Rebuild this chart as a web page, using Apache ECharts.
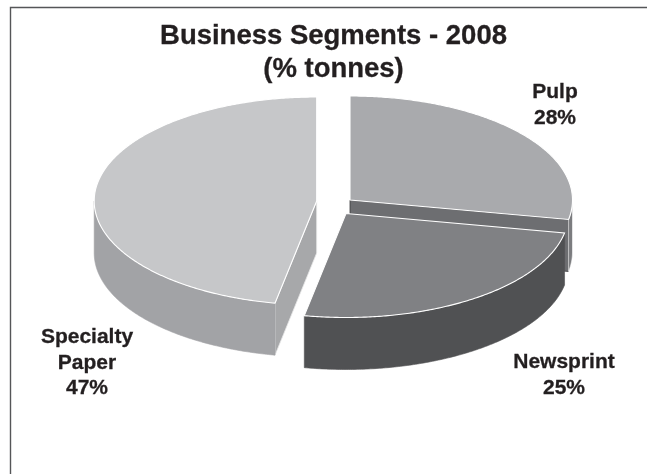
<!DOCTYPE html>
<html>
<head>
<meta charset="utf-8">
<style>html,body{margin:0;padding:0;background:#fff}#chart{width:647px;height:474px}</style>
<script src="https://cdn.jsdelivr.net/npm/echarts@6/dist/echarts.min.js"></script>
</head>
<body>
<div id="chart"></div>
<script>
// Segment shares, clockwise from twelve o'clock
const categories = ['Pulp', 'Newsprint', 'Specialty\nPaper'];
const shares = [28, 25, 47];

// Tilted-disc geometry and per-segment appearance
const RX = 222.5, RY = 104, DEPTH = 52;
const apexes = [[350, 200], [346, 213.5], [316.7, 201]];
const topColors = ['#a9aaad', '#808184', '#c6c7c9'];
const wallColors = ['#7b7c7f', '#505153', '#a2a3a6'];
const wallEdges = ['#ffffff', '#505153', '#a2a3a6'];
const cutColors = ['#6d6e71', null, '#a7a8aa'];
const cutEdges = ['#3a3a3c', null, '#e8e8e9'];
// Which radial edge of each segment faces the viewer: 1 = trailing, 0 = leading
const cutSide = [1, null, 0];
const labelAnchors = [[555, 105], [564, 375], [87, 363]];

const total = shares.reduce((a, b) => a + b, 0);
const toAngle = p => (p / total) * Math.PI * 2;

function rimPoint(c, a, dy) {
  return [c[0] + RX * Math.sin(a), c[1] - RY * Math.cos(a) + (dy || 0)];
}
function arcPoints(c, a0, a1, dy) {
  const n = Math.max(2, Math.ceil(Math.abs(a1 - a0) / 0.01));
  const pts = [];
  for (let i = 0; i <= n; i++) pts.push(rimPoint(c, a0 + (a1 - a0) * i / n, dy));
  return pts;
}
function poly(points, fill, stroke, z2, lw) {
  return {
    type: 'polygon', z2: z2,
    shape: { points: points },
    style: { fill: fill, stroke: stroke, lineWidth: lw }
  };
}

// Series order paints far segments first so nearer ones overlap them
function renderSegment(params, api) {
  const i = params.dataIndex;
  let before = 0;
  for (let k = 0; k < i; k++) before += shares[k];
  const a0 = toAngle(before), a1 = toAngle(before + api.value(0));
  const c = apexes[i];
  const kids = [];

  // Cut face along the radial edge that looks toward the viewer
  if (cutSide[i] !== null) {
    const tip = rimPoint(c, cutSide[i] ? a1 : a0);
    kids.push(poly([c, tip, [tip[0], tip[1] + DEPTH], [c[0], c[1] + DEPTH]],
      cutColors[i], cutEdges[i], 1, 0.8));
  }

  // Outer wall: only the front half of the rim (quarter to three-quarter turn)
  const w0 = Math.max(a0, Math.PI / 2), w1 = Math.min(a1, Math.PI * 1.5);
  if (w1 > w0) {
    const upper = arcPoints(c, w0, w1, 0);
    const lower = arcPoints(c, w1, w0, DEPTH);
    kids.push(poly(upper.concat(lower), wallColors[i], wallEdges[i], 2, 0.6));
  }

  // Top face, outlined in white
  kids.push(poly([c].concat(arcPoints(c, a0, a1, 0)), topColors[i], '#ffffff', 3, 1.1));

  const anchor = labelAnchors[i];
  kids.push({
    type: 'text', z2: 4, x: anchor[0], y: anchor[1],
    style: {
      text: categories[i] + '\n' + api.value(0) + '%',
      fill: '#231f20', stroke: '#231f20', lineWidth: 0.3,
      align: 'center', verticalAlign: 'middle',
      font: 'bold 21px "Liberation Sans", Arial, sans-serif', lineHeight: 25.5
    }
  });
  return { type: 'group', children: kids };
}

const chart = echarts.init(document.getElementById('chart'), null, { renderer: 'canvas' });
chart.setOption({
  animation: false,
  backgroundColor: '#ffffff',
  title: {
    text: 'Business Segments - 2008\n(% tonnes)',
    left: 328.5, top: 15, textAlign: 'center',
    textStyle: {
      color: '#231f20', fontFamily: '"Liberation Sans", Arial, sans-serif',
      fontWeight: 'bold', fontSize: 27.5, lineHeight: 33,
      textBorderColor: '#231f20', textBorderWidth: 0.3
    }
  },
  graphic: [{
    // Frame: top and left rules only
    type: 'polyline', silent: true,
    shape: { points: [[647, 7.5], [10.5, 7.5], [10.5, 474]] },
    style: { fill: 'none', stroke: '#555658', lineWidth: 1.4 }
  }],
  series: [{
    type: 'custom',
    coordinateSystem: 'none',
    silent: true,
    clip: false,
    renderItem: renderSegment,
    data: shares.map((v, i) => ({ value: [v], name: categories[i] }))
  }]
});
</script>
</body>
</html>
